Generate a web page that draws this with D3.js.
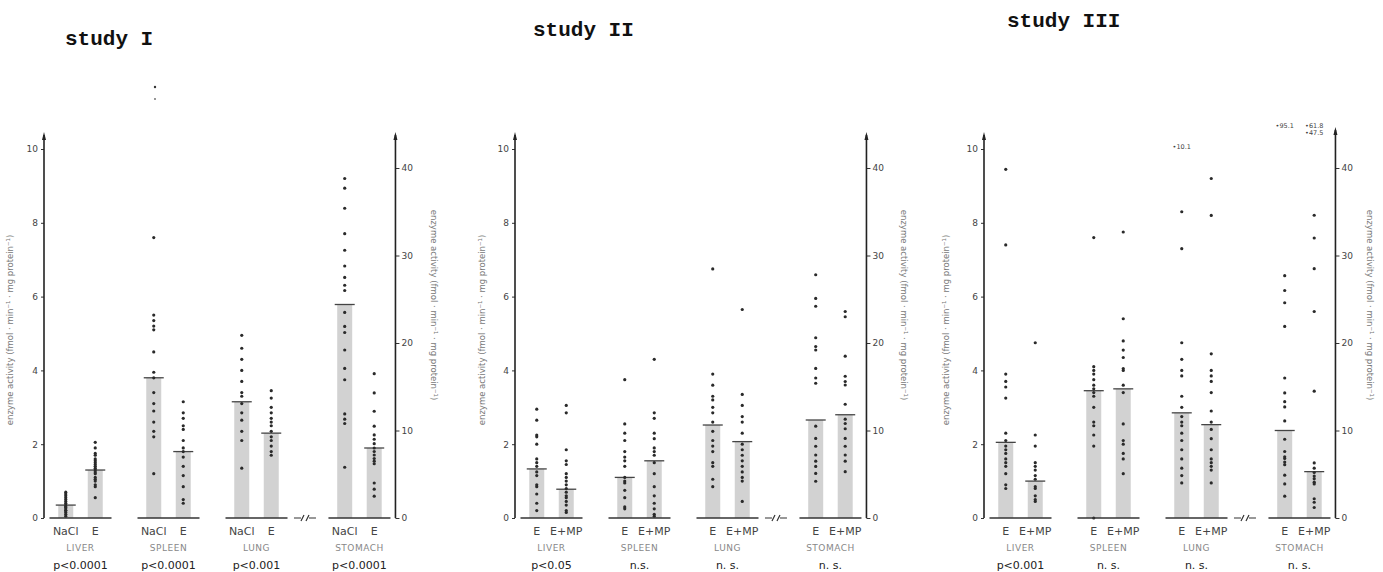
<!DOCTYPE html>
<html lang="en">
<head>
<meta charset="UTF-8">
<title>enzyme activity - studies I-III</title>
<script src="https://d3js.org/d3.v7.min.js"></script>
<style>
  body { margin: 0; background: #fff; }
  text { font-family: "DejaVu Sans", sans-serif; }
  .title { font-family: "Liberation Mono", monospace; font-weight: bold; font-size: 21px; fill: #111; }
  .tick text { font-size: 9px; fill: #444; }
  .ylab { font-size: 8.5px; fill: #777; }
  .cat { font-size: 11px; fill: #444; }
  .organ { font-size: 9px; fill: #888; letter-spacing: 0.5px; }
  .pval { font-size: 11px; fill: #222; }
  .note { font-size: 6.5px; fill: #444; }
</style>
</head>
<body>
<div id="chart"></div>
<script>
// ---- data ----
const organs = ["LIVER", "SPLEEN", "LUNG", "STOMACH"];
const studies = ["study I", "study II", "study III"];
const treatI = ["NaCl", "E"];
const treatII = ["E", "E+MP"];
const leftTicks = [0, 2, 4, 6, 8, 10];
const rightTicks = [0, 10, 20, 30, 40];
const yLabel = "enzyme activity (fmol · min⁻¹ · mg protein⁻¹)";

const pI = ["p<0.0001", "p<0.0001", "p<0.001", "p<0.0001"];
const pII = ["p<0.05", "n.s.", "n. s.", "n. s."];
const pIII = ["p<0.001", "n. s.", "n. s.", "n. s."];

// means per organ [treatment1, treatment2]; stomach on right axis
const meansI = [[0.35, 1.3], [3.8, 1.8], [3.15, 2.3], [24.4, 8.0]];
const meansII = [[1.33, 0.78], [1.1, 1.55], [2.52, 2.07], [11.2, 11.8]];
const meansIII = [[2.05, 1.0], [3.45, 3.5], [2.85, 2.53], [10.0, 5.3]];

// individual values
const pointsI = [
  [[0.05, 0.1, 0.15, 0.2, 0.2, 0.25, 0.3, 0.3, 0.35, 0.4, 0.45, 0.5, 0.55, 0.6, 0.65, 0.7],
   [2.05, 1.9, 1.75, 1.7, 1.6, 1.55, 1.5, 1.45, 1.4, 1.35, 1.3, 1.25, 1.2, 1.1, 1.05, 1.0, 0.9, 0.85, 0.55]],
  [[7.6, 5.5, 5.35, 5.2, 5.1, 4.5, 3.95, 3.8, 3.4, 3.1, 2.9, 2.6, 2.35, 2.2, 1.2],
   [3.15, 2.85, 2.7, 2.5, 2.4, 2.1, 1.9, 1.8, 1.65, 1.4, 1.15, 0.85, 0.5, 0.4]],
  [[4.95, 4.6, 4.3, 4.0, 3.7, 3.4, 3.3, 3.1, 2.85, 2.65, 2.35, 2.1, 1.35],
   [3.45, 3.25, 3.0, 2.85, 2.7, 2.6, 2.5, 2.35, 2.2, 2.1, 1.95, 1.8, 1.7]],
  [[38.8, 37.7, 35.4, 32.5, 30.6, 28.8, 27.5, 26.6, 26.0, 23.5, 21.9, 21.2, 19.2, 17.1, 15.8, 11.9, 11.3, 10.8, 5.8],
   [16.5, 14.3, 12.2, 10.5, 9.5, 9.0, 8.5, 8.0, 7.6, 7.2, 6.8, 6.5, 6.2, 4.0, 3.3, 2.5]]
];
const pointsII = [
  [[2.95, 2.65, 2.25, 2.2, 2.0, 1.6, 1.5, 1.4, 1.25, 1.15, 0.9, 0.85, 0.65, 0.4, 0.2],
   [3.05, 2.85, 1.85, 1.55, 1.45, 1.2, 1.1, 1.0, 0.9, 0.8, 0.7, 0.6, 0.55, 0.45, 0.35, 0.2, 0.15]],
  [[3.75, 2.55, 2.3, 2.1, 1.8, 1.65, 1.55, 1.4, 1.1, 1.0, 0.95, 0.75, 0.55, 0.3, 0.25],
   [4.3, 2.85, 2.7, 2.3, 2.15, 1.9, 1.8, 1.7, 1.5, 1.2, 0.85, 0.6, 0.4, 0.25, 0.1, 0.05]],
  [[6.75, 3.9, 3.6, 3.3, 3.2, 3.0, 2.85, 2.6, 2.35, 2.1, 1.95, 1.8, 1.5, 1.4, 1.05, 0.85],
   [5.65, 3.35, 3.05, 2.75, 2.6, 2.3, 2.0, 1.85, 1.7, 1.55, 1.4, 1.25, 1.1, 1.0, 0.45]],
  [[27.8, 25.1, 24.2, 20.6, 19.6, 19.2, 17.1, 16.0, 15.4, 10.5, 9.1, 8.2, 7.2, 6.5, 5.9, 5.1, 4.2],
   [23.6, 23.0, 18.5, 16.2, 15.6, 15.2, 13.0, 11.3, 10.8, 10.2, 9.1, 8.2, 7.2, 6.5, 5.3]]
];
const pointsIII = [
  [[9.45, 7.4, 3.9, 3.7, 3.55, 3.25, 2.3, 2.1, 1.95, 1.85, 1.75, 1.6, 1.5, 1.4, 1.2, 0.9, 0.8],
   [4.75, 2.25, 1.95, 1.5, 1.4, 1.3, 1.15, 1.05, 0.85, 0.8, 0.6, 0.5, 0.45]],
  [[7.6, 4.1, 4.0, 3.9, 3.75, 3.6, 3.5, 3.4, 3.3, 3.0, 2.6, 2.5, 2.25, 1.95, 0.0],
   [7.75, 5.4, 4.8, 4.55, 4.35, 4.05, 4.0, 3.6, 3.4, 2.55, 2.1, 2.0, 1.75, 1.6, 1.2]],
  [[8.3, 7.3, 4.75, 4.3, 4.0, 3.85, 3.3, 3.0, 2.75, 2.6, 2.5, 2.3, 2.1, 1.85, 1.6, 1.35, 1.15, 0.95],
   [9.2, 8.2, 4.45, 4.0, 3.85, 3.7, 3.4, 2.9, 2.6, 2.4, 2.15, 1.85, 1.6, 1.5, 1.4, 1.3, 0.95]],
  [[27.7, 26.0, 24.6, 21.9, 16.0, 14.3, 13.3, 12.7, 11.1, 9.0, 7.6, 7.0, 6.8, 6.4, 6.1, 4.9, 3.9, 2.5],
   [34.6, 32.0, 28.5, 23.6, 14.5, 6.3, 5.7, 5.2, 4.8, 4.5, 4.1, 3.9, 2.2, 1.8, 1.2]]
];
// off-scale values written above columns in study III: [organ, treatment, text, row]
const offScaleIII = [[2, 0, "•10.1", 0], [3, 0, "•95.1", 0], [3, 1, "•61.8", 0], [3, 1, "•47.5", 1]];

// ---- layout ----
const width = 1383, height = 572;
const baseY = 518;
const panels = [
  {title: studies[0], tx: 65, ty: 45, axisX: 44, treat: treatI, means: meansI, points: pointsI, p: pI, labL: 13, labR: 431, topR: 133},
  {title: studies[1], tx: 533, ty: 36, axisX: 515, treat: treatII, means: meansII, points: pointsII, p: pII, labL: 485, labR: 901, topR: 133},
  {title: studies[2], tx: 1007, ty: 27, axisX: 984, treat: treatII, means: meansIII, points: pointsIII, p: pIII, labL: 949, labR: 1367, topR: 128}
];
const slots = [0, 1, 2, 3.17];   // stomach sits after the axis break
const step = 88;

const yL = d3.scaleLinear().domain([0, 10]).range([baseY, 149]);
const yR = d3.scaleLinear().domain([0, 40]).range([baseY, 168]);

const svg = d3.select("#chart").append("svg")
  .attr("width", width).attr("height", height);

// two stray specks under "study I"
svg.append("circle").attr("cx", 155).attr("cy", 87).attr("r", 1.2).style("fill", "#333");
svg.append("circle").attr("cx", 155).attr("cy", 99).attr("r", 0.9).style("fill", "#666");

panels.forEach((pn, pi) => {
  const g = svg.append("g");
  const first = pn.axisX + 36.5;
  const xo = d3.scaleLinear().domain([0, 3.17]).range([first, first + 3.17 * step]);
  const xi = d3.scalePoint().domain(pn.treat).range([-14.75, 14.75]);
  const rightX = xo(3.17) + 36;

  g.append("text").attr("class", "title").attr("x", pn.tx).attr("y", pn.ty).text(pn.title);

  // bars, baselines, means, dots
  organs.forEach((org, oi) => {
    const cx = xo(slots[oi]);
    const ys = oi === 3 ? yR : yL;
    pn.treat.forEach((t, ti) => {
      const x = cx + xi(t);
      const m = pn.means[oi][ti];
      g.append("rect")
        .attr("x", x - 7.5).attr("y", ys(m))
        .attr("width", 15).attr("height", baseY - ys(m))
        .style("fill", "#d2d2d2");
      g.append("line")
        .attr("x1", x - 10).attr("x2", x + 10)
        .attr("y1", ys(m)).attr("y2", ys(m))
        .style("stroke", "#444").style("stroke-width", 1.3);
      g.selectAll(null).data(pn.points[oi][ti]).enter().append("circle")
        .attr("cx", x).attr("cy", d => ys(d)).attr("r", 1.6)
        .style("fill", "#2a2a2a");
      g.append("text").attr("class", "cat")
        .attr("x", x).attr("y", 535).attr("text-anchor", "middle").text(t);
    });
    g.append("line")
      .attr("x1", cx - 31).attr("x2", cx + 31)
      .attr("y1", baseY).attr("y2", baseY)
      .style("stroke", "#333").style("stroke-width", 1.5);
    g.append("text").attr("class", "organ")
      .attr("x", cx).attr("y", 551).attr("text-anchor", "middle").text(org);
    g.append("text").attr("class", "pval")
      .attr("x", cx).attr("y", 569).attr("text-anchor", "middle").text(pn.p[oi]);
  });

  // axis break "-//-"
  const bx = xo((slots[2] + slots[3]) / 2) - 3;
  g.append("path")
    .attr("d", `M${bx - 11},${baseY}H${bx - 4}M${bx - 4},${baseY + 3}L${bx - 1},${baseY - 3}` +
               `M${bx + 1},${baseY + 3}L${bx + 4},${baseY - 3}M${bx + 4},${baseY}H${bx + 11}`)
    .style("fill", "none").style("stroke", "#333").style("stroke-width", 1.2);

  // left axis
  const ax = g.append("g").attr("transform", `translate(${pn.axisX},0)`)
    .call(d3.axisLeft(yL).tickValues(leftTicks).tickSize(3).tickPadding(3));
  ax.select(".domain").remove();
  ax.selectAll(".tick line").style("stroke", "#333");
  g.append("line").attr("x1", pn.axisX).attr("x2", pn.axisX)
    .attr("y1", baseY).attr("y2", 135)
    .style("stroke", "#222").style("stroke-width", 1.6);
  g.append("path")
    .attr("d", `M${pn.axisX - 2},${140}L${pn.axisX},${132}L${pn.axisX + 2},${140}Z`)
    .style("fill", "#222");

  // right axis
  const ar = g.append("g").attr("transform", `translate(${rightX},0)`)
    .call(d3.axisRight(yR).tickValues(rightTicks).tickSize(4).tickPadding(2));
  ar.select(".domain").remove();
  ar.selectAll(".tick line").style("stroke", "#333");
  g.append("line").attr("x1", rightX).attr("x2", rightX)
    .attr("y1", baseY).attr("y2", pn.topR + 2)
    .style("stroke", "#222").style("stroke-width", 1.6);
  g.append("path")
    .attr("d", `M${rightX - 2},${pn.topR + 7}L${rightX},${pn.topR - 1}L${rightX + 2},${pn.topR + 7}Z`)
    .style("fill", "#222");

  // axis titles
  g.append("text").attr("class", "ylab")
    .attr("transform", `translate(${pn.labL},330) rotate(-90)`)
    .attr("text-anchor", "middle").text(yLabel);
  g.append("text").attr("class", "ylab")
    .attr("transform", `translate(${pn.labR},305) rotate(90)`)
    .attr("text-anchor", "middle").text(yLabel);

  if (pi === 2) {
    g.selectAll(null).data(offScaleIII).enter().append("text")
      .attr("class", "note")
      .attr("x", d => xo(slots[d[0]]) + xi(pn.treat[d[1]]))
      .attr("y", d => d[0] === 3 ? 128 + d[3] * 7 : 149)
      .attr("text-anchor", "middle").text(d => d[2]);
  }
});
</script>
</body>
</html>
